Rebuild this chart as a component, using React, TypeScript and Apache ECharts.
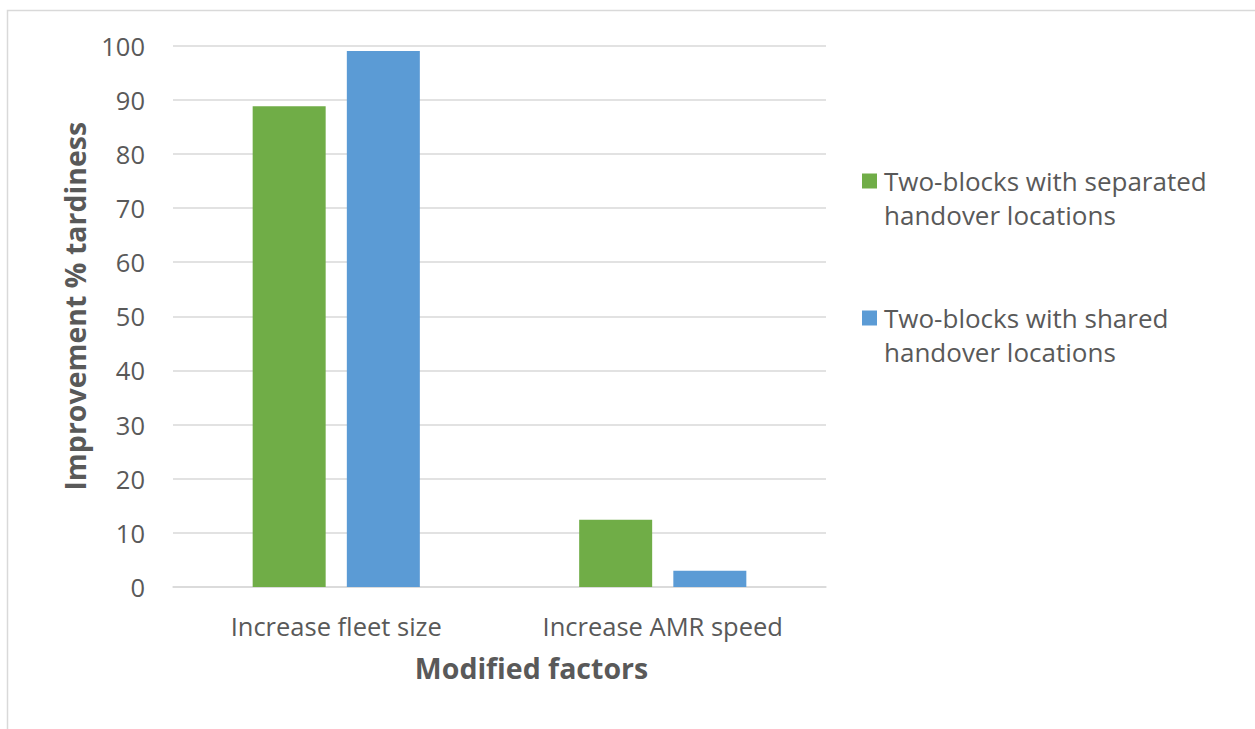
import React, { useEffect, useRef } from "react";
import * as echarts from "echarts";

const categories = ["Increase fleet size", "Increase AMR speed"];
const seriesNames = [
  "Two-blocks with separated\nhandover locations",
  "Two-blocks with shared\nhandover locations",
];
const separatedValues = [88.8, 12.4];
const sharedValues = [99.0, 3.0];
const yTicks = { min: 0, max: 100, interval: 10 };

const FONT = "'Open Sans', sans-serif";
const TEXT = "#595959";

export default function App() {
  const ref = useRef<HTMLDivElement>(null);
  useEffect(() => {
    document.body.style.margin = "0";
    const chart = echarts.init(ref.current!, null, { renderer: "svg" });
    chart.setOption({
      animation: false,
      backgroundColor: "#ffffff",
      textStyle: { fontFamily: FONT, color: TEXT },
      graphic: [
        {
          type: "rect",
          shape: { x: 7.5, y: 10.5, width: 1300, height: 800 },
          style: { fill: "none", stroke: "#d9d9d9", lineWidth: 1.5 },
          silent: true,
          z: -10,
        },
      ],
      grid: { left: 173, right: 429, top: 45.5, bottom: 142 },
      legend: {
        orient: "vertical",
        left: 862,
        top: 130,
        padding: 0,
        itemWidth: 15,
        itemHeight: 15,
        itemGap: 35,
        icon: "rect",
        data: seriesNames,
        formatter: (name: string) => "\n" + name,
        textStyle: {
          fontFamily: FONT,
          fontSize: 26,
          color: TEXT,
          lineHeight: 34,
          padding: [0, 0, 0, 2],
        },
      },
      xAxis: {
        type: "category",
        data: categories,
        axisLine: { lineStyle: { color: "#d9d9d9", width: 1.5 } },
        axisTick: { show: false },
        axisLabel: { fontSize: 25.5, color: TEXT, margin: 26, fontFamily: FONT },
        name: "Modified factors",
        nameLocation: "middle",
        nameGap: 66,
        nameTextStyle: {
          fontSize: 28.5,
          fontWeight: "bold",
          color: TEXT,
          fontFamily: FONT,
          padding: [0, 0, 0, 64],
        },
      },
      yAxis: {
        type: "value",
        min: yTicks.min,
        max: yTicks.max,
        interval: yTicks.interval,
        axisLine: { show: false },
        axisTick: { show: false },
        splitLine: { lineStyle: { color: "#d9d9d9", width: 1.5 } },
        axisLabel: { fontSize: 25.5, color: TEXT, margin: 28, fontFamily: FONT },
        name: "Improvement % tardiness",
        nameLocation: "middle",
        nameGap: 84,
        nameTextStyle: {
          fontSize: 28.5,
          fontWeight: "bold",
          color: TEXT,
          fontFamily: FONT,
          padding: [0, 0, 0, 20],
        },
      },
      series: [
        {
          name: seriesNames[0],
          type: "bar",
          data: separatedValues,
          barWidth: 73,
          barGap: "29%",
          itemStyle: { color: "#70AD47" },
        },
        {
          name: seriesNames[1],
          type: "bar",
          data: sharedValues,
          barWidth: 73,
          barGap: "29%",
          itemStyle: { color: "#5B9BD5" },
        },
      ],
    });
    return () => chart.dispose();
  }, []);
  return <div ref={ref} style={{ width: 1255, height: 729 }} />;
}
